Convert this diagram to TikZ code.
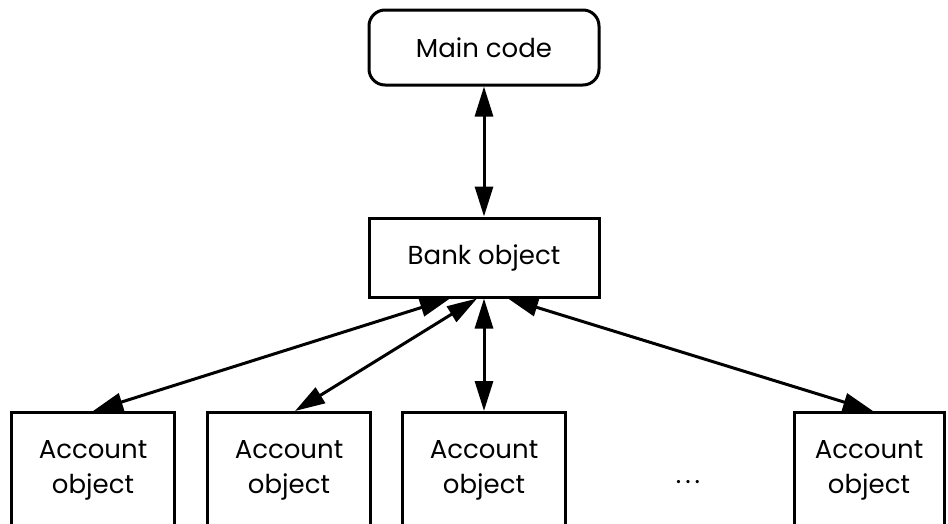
\documentclass[tikz,border=0pt]{standalone}
\usepackage{fontspec}
\setmainfont{Poppins}
\usetikzlibrary{arrows.meta}
\tikzset{>={Triangle[length=30pt,width=18pt]}}
\tikzstyle{codebox}=[rectangle,draw=black,line width=3pt,minimum width=230pt,minimum height=75pt,rounded corners=16pt,font=\fontsize{26}{35}\selectfont]
\tikzstyle{objbox}=[rectangle,draw=black,line width=3pt,minimum width=230pt,minimum height=79pt,font=\fontsize{26}{35}\selectfont]
\tikzstyle{accbox}=[rectangle,draw=black,line width=3pt,minimum width=163pt,inner sep=0pt,anchor=north,text height=46pt,text depth=140pt,font=\fontsize{26}{35}\selectfont]
\tikzstyle{link}=[<->,line width=3pt]

\begin{document}
\begin{tikzpicture}[x=1pt,y=-1pt]
	\def \acctop {411};
	\def \midx {484};

	\useasboundingbox (0,0) rectangle (948,523);

	\node[codebox] (main) at (\midx, 47.5) {Main code};
	\node[objbox] (bank) at (\midx, 257.5) {Bank object};

	\draw[link] (main) -- (bank);

	\foreach \i/\x in {1/93, 2/289, 3/\midx} {
		\node[accbox] (acc\i) at (\x, \acctop) {\begin{tabular}[t]{@{}c@{}}Account\\object\end{tabular}};
	};
	\node[accbox,minimum width=150pt] (acc5) at (869, \acctop) {\begin{tabular}[t]{@{}c@{}}Account\\object\end{tabular}};

	\node[font=\fontsize{26}{35}\selectfont] (dots) at (688, 482) {.\hspace{4pt}.\hspace{4pt}.};

	\draw[link] (acc1.north) -- ([xshift=-34pt]bank.south);
	\draw[link] ([xshift=6pt]acc2.north) -- ([xshift=-7pt]bank.south);
	\draw[link] (acc3.north) -- (bank.south);
	\draw[link] ([xshift=4pt]acc5.north) -- ([xshift=24pt]bank.south);
\end{tikzpicture}
\end{document}
